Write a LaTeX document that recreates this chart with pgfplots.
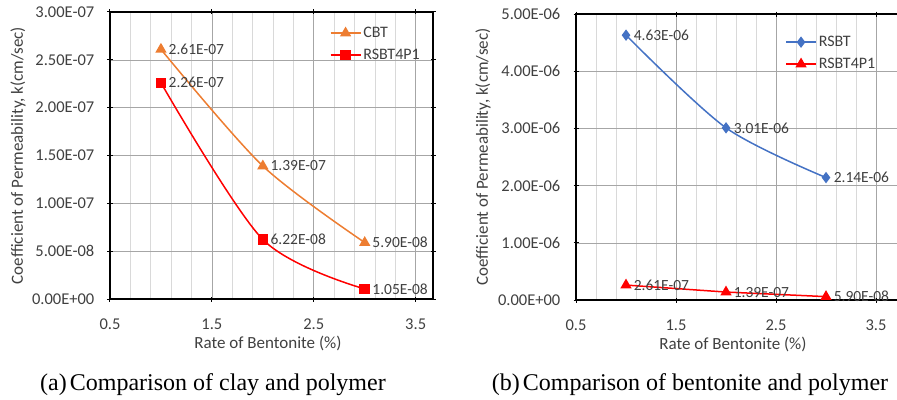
\documentclass[border=0pt]{standalone}
\usepackage{pgfplots}
\pgfplotsset{compat=1.18}
\usepackage{fontspec}
\newfontfamily\carlito{Carlito}
\newfontfamily\timesf{Liberation Serif}
\definecolor{cbt}{HTML}{ED7D31}
\definecolor{rsbt}{HTML}{4472C4}
\definecolor{redc}{HTML}{FF0000}
\definecolor{txt}{HTML}{404040}
\pgfplotsset{
  common/.style={
    scale only axis,
    scaled ticks=false,
    axis line style={black, line width=1.3pt},
    tick style={black, line width=1pt},
    major tick length=5pt,
    minor tick length=0pt,
    tick align=center,
    xtick={0.5,1.5,2.5,3.5},
    xticklabels={0.5,1.5,2.5,3.5},
    minor x tick num=4,
    xmajorgrids, xminorgrids, ymajorgrids,
    major grid style={draw=black!35, line width=0.6pt},
    minor grid style={draw=black!15, line width=0.6pt},
    xmin=0.5,
    ymin=0,
    xticklabel style={font=\carlito\fontsize{16.5}{18}\selectfont, text=txt, anchor=center, yshift=-23pt},
    yticklabel style={font=\carlito\fontsize{16.5}{18}\selectfont, text=txt, anchor=east, inner sep=0pt, xshift=-13pt},
    legend style={draw=none, fill=none, font=\carlito\fontsize{16}{18}\selectfont, text=txt, row sep=6pt, anchor=north west, inner sep=0pt, cells={anchor=west}},
    legend image code/.code={\draw[mark repeat=2, mark phase=2, #1] plot coordinates {(0pt,0pt) (15pt,0pt) (30pt,0pt)};},
    lbl/.style={nodes near coords, point meta=explicit symbolic,
      nodes near coords style={anchor=west, xshift=7pt, inner sep=0pt, text=txt, font=\carlito\fontsize{15.5}{17}\selectfont}},
  }
}
\begin{document}
\begin{tikzpicture}
\useasboundingbox (0pt,0pt) rectangle (897pt,399pt);
\clip (0pt,0pt) rectangle (897pt,399pt);
% Left chart
\begin{axis}[common,
  at={(110pt,100pt)}, anchor=south west,
  width=323pt, height=287pt,
  xmax=3.67, ymax=3e-7,
  ytick={0,5e-8,1e-7,1.5e-7,2e-7,2.5e-7,3e-7},
  yticklabels={0.00E+00,5.00E-08,1.00E-07,1.50E-07,2.00E-07,2.50E-07,3.00E-07},
  xlabel={Rate of Bentonite (\%)},
  every axis x label/.style={at={(axis cs:2.05,0)}, anchor=center, yshift=-44pt, font=\carlito\fontsize{17}{19}\selectfont, text=txt},
  ylabel={Coefficient of Permeability, k(cm/sec)},
  every axis y label/.style={at={(rel axis cs:0,0.5)}, xshift=-92pt, rotate=90, anchor=center, font=\carlito\fontsize{17}{19}\selectfont, text=txt},
  legend style={at={(rel axis cs:0.68,0.955)}},
]
\addplot[cbt, line width=1.5pt, smooth, mark=triangle*, mark size=5pt, mark options={solid}, lbl]
  table[meta=label] {
x y label
1 2.61e-7 2.61E-07
2 1.39e-7 1.39E-07
3 5.90e-8 5.90E-08
};
\addlegendentry{CBT}
\addplot[redc, line width=1.5pt, smooth, mark=square*, mark size=4.5pt, mark options={solid}, lbl]
  table[meta=label] {
x y label
1 2.26e-7 2.26E-07
2 6.22e-8 6.22E-08
3 1.05e-8 1.05E-08
};
\addlegendentry{RSBT4P1}
\end{axis}
% Right chart
\begin{axis}[common,
  at={(576pt,99pt)}, anchor=south west,
  width=340pt, height=286pt,
  xmax=3.9, ymax=5e-6,
  ytick={0,1e-6,2e-6,3e-6,4e-6,5e-6},
  yticklabels={0.00E+00,1.00E-06,2.00E-06,3.00E-06,4.00E-06,5.00E-06},
  xlabel={Rate of Bentonite (\%)},
  every axis x label/.style={at={(axis cs:2.07,0)}, anchor=center, yshift=-44pt, font=\carlito\fontsize{17}{19}\selectfont, text=txt},
  ylabel={Coefficient of Permeability, k(cm/sec)},
  every axis y label/.style={at={(rel axis cs:0,0.5)}, xshift=-93pt, rotate=90, anchor=center, font=\carlito\fontsize{17}{19}\selectfont, text=txt},
  legend style={at={(rel axis cs:0.615,0.93)}},
]
\addplot[rsbt, line width=1.5pt, smooth, mark=diamond*, mark size=4.5pt, mark options={solid}, lbl]
  table[meta=label] {
x y label
1 4.63e-6 4.63E-06
2 3.01e-6 3.01E-06
3 2.14e-6 2.14E-06
};
\addlegendentry{RSBT}
\addplot[redc, line width=1.5pt, mark=triangle*, mark size=5pt, mark options={solid}, lbl]
  table[meta=label] {
x y label
1 2.61e-7 2.61E-07
2 1.39e-7 1.39E-07
3 5.90e-8 5.90E-08
};
\addlegendentry{RSBT4P1}
\end{axis}
% Captions
\node[anchor=base, font=\timesf\fontsize{24}{26}\selectfont] at (213pt,9pt) {(a)\hspace{3pt}Comparison of clay and polymer};
\node[anchor=base, font=\timesf\fontsize{24}{26}\selectfont] at (690pt,9pt) {(b)\hspace{3pt}Comparison of bentonite and polymer};
\end{tikzpicture}
\end{document}
